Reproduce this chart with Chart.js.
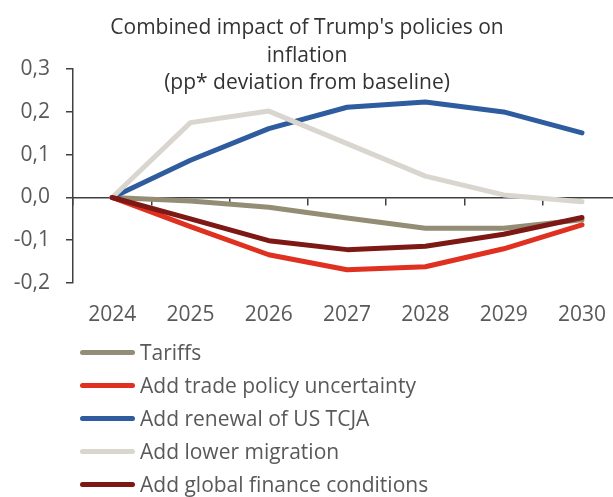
<!DOCTYPE html>
<html>
<head>
    <title>Combined impact of Trump's policies on inflation</title>
    <script src="https://cdn.jsdelivr.net/npm/chart.js@4.4.0/dist/chart.umd.min.js"></script>
    <style>
        body { margin: 0; background: #fff; font-family: 'Open Sans', sans-serif; }
        #wrap { position: relative; width: 613px; height: 497px; overflow: hidden; }
        #legend { position: absolute; left: 80px; top: 336px; }
        .item { position: relative; height: 33px; }
        .item .swatch { position: absolute; left: 0; top: 14px; width: 55px; height: 5px; border-radius: 3px; }
        .item .txt { position: absolute; left: 60px; top: 1px; font-size: 21px; line-height: 30px; color: #595959; white-space: nowrap; }
    </style>
</head>
<body>
    <div id="wrap">
        <canvas id="impact-chart" width="625" height="340"></canvas>
        <div id="legend"></div>
    </div>

    <script>
        // Années et séries (pp d'écart par rapport au scénario de base)
        var years = ['2024', '2025', '2026', '2027', '2028', '2029', '2030'];
        var tariffs = [0, -0.008, -0.023, -0.048, -0.072, -0.072, -0.052];
        var tradeUncertainty = [0, -0.068, -0.134, -0.169, -0.162, -0.12, -0.064];
        var tcjaRenewal = [0, 0.087, 0.161, 0.211, 0.223, 0.2, 0.151];
        var lowerMigration = [0, 0.175, 0.202, 0.126, 0.05, 0.006, -0.01];
        var financeConditions = [0, -0.05, -0.101, -0.122, -0.114, -0.086, -0.047];
        var yTicks = [-0.2, -0.1, 0, 0.1, 0.2, 0.3];

        var axisColor = '#404040';
        var textColor = '#595959';
        var visibleWidth = 613;

        function serie(label, data, color, order) {
            return {
                label: label,
                data: data,
                borderColor: color,
                backgroundColor: color,
                borderWidth: 5,
                pointRadius: 0,
                borderCapStyle: 'round',
                borderJoinStyle: 'round',
                tension: 0,
                fill: false,
                order: order
            };
        }

        // le canvas déborde à droite : on recentre le titre sur la partie visible
        var titleCenter = {
            id: 'titleCenter',
            afterLayout: function (c) {
                c.titleBlock.left = 0;
                c.titleBlock.right = visibleWidth + 1;
            }
        };

        var ctx = document.getElementById('impact-chart').getContext('2d');
        var chart = new Chart(ctx, {
            type: 'line',
            data: {
                labels: years,
                datasets: [
                    serie('Tariffs', tariffs, '#948d76', 5),
                    serie('Add trade policy uncertainty', tradeUncertainty, '#e0301f', 4),
                    serie('Add renewal of US TCJA', tcjaRenewal, '#2e5c9e', 3),
                    serie('Add lower migration', lowerMigration, '#d9d6cf', 2),
                    serie('Add global finance conditions', financeConditions, '#7d1814', 1)
                ]
            },
            plugins: [titleCenter],
            options: {
                responsive: false,
                animation: false,
                layout: { padding: 0 },
                plugins: {
                    legend: { display: false },
                    tooltip: { enabled: false },
                    title: {
                        display: true,
                        text: ["Combined impact of Trump's policies on", 'inflation', '(pp* deviation from baseline)'],
                        color: '#333333',
                        font: { family: 'Open Sans', size: 21, weight: 'normal', lineHeight: 1.32 },
                        padding: { top: 14, bottom: -28 }
                    }
                },
                scales: {
                    x: {
                        type: 'category',
                        offset: true,
                        grid: { display: false, drawTicks: false },
                        border: { display: false },
                        ticks: {
                            color: textColor,
                            padding: 19,
                            font: { family: 'Open Sans', size: 21 }
                        },
                        afterFit: function (s) { s.height = 57; }
                    },
                    // ligne du zéro avec les graduations entre les années
                    x2: {
                        type: 'category',
                        axis: 'x',
                        labels: years,
                        position: { y: 0 },
                        offset: true,
                        grid: {
                            drawOnChartArea: false,
                            offset: true,
                            tickLength: 7,
                            color: axisColor,
                            lineWidth: 1.5
                        },
                        border: { display: true, color: axisColor, width: 1.5 },
                        ticks: { display: false }
                    },
                    y: {
                        min: -0.2,
                        max: 0.3,
                        afterBuildTicks: function (s) {
                            s.ticks = yTicks.map(function (v) { return { value: v }; });
                        },
                        grid: {
                            drawOnChartArea: false,
                            tickLength: 7,
                            color: axisColor,
                            lineWidth: 1.5
                        },
                        border: { display: true, color: axisColor, width: 1.5 },
                        ticks: {
                            color: textColor,
                            padding: 16,
                            font: { family: 'Open Sans', size: 21 },
                            callback: function (v) {
                                if (Math.abs(v) < 1e-9) return '0,0';
                                return v.toFixed(1).replace('.', ',');
                            }
                        },
                        afterFit: function (s) { s.width = 73; }
                    }
                }
            }
        });

        // Légende verticale sous le graphique
        var legend = document.getElementById('legend');
        chart.data.datasets.forEach(function (ds) {
            var item = document.createElement('div');
            item.className = 'item';
            var sw = document.createElement('div');
            sw.className = 'swatch';
            sw.style.background = ds.borderColor;
            var txt = document.createElement('div');
            txt.className = 'txt';
            txt.textContent = ds.label;
            item.appendChild(sw);
            item.appendChild(txt);
            legend.appendChild(item);
        });
    </script>
</body>
</html>
